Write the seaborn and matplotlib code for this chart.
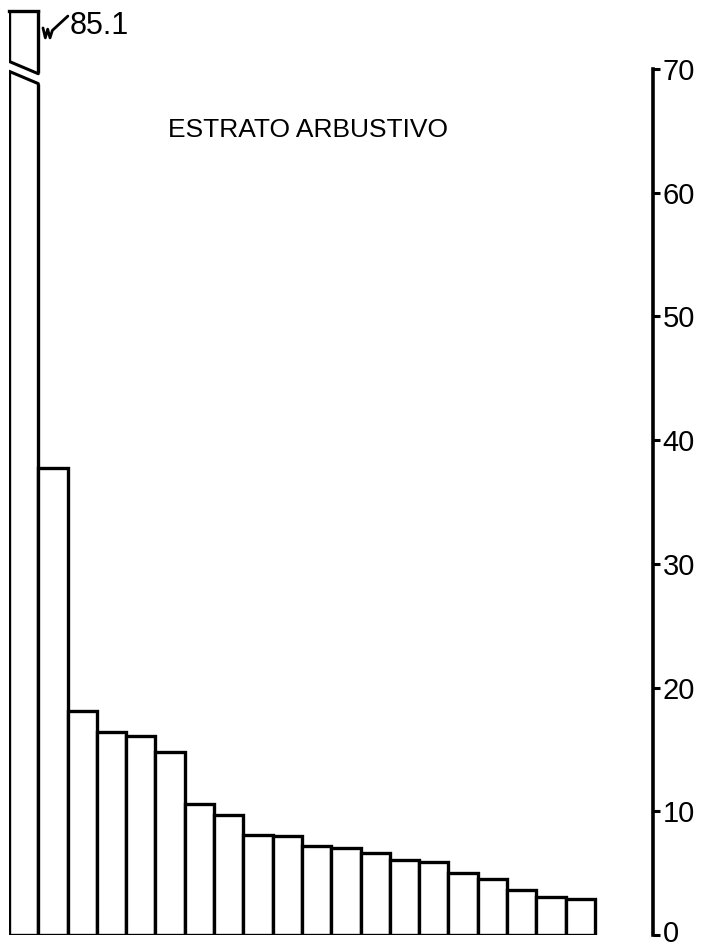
import matplotlib
matplotlib.use("Agg")
import matplotlib.pyplot as plt
import matplotlib.transforms as mtransforms
import seaborn as sns
import pandas as pd

categories = [str(i) for i in range(1, 21)]
values = [85.1, 37.7, 18.1, 16.4, 16.1, 14.8, 10.6, 9.7, 8.1, 8.0,
          7.2, 7.0, 6.6, 6.1, 5.9, 5.0, 4.5, 3.6, 3.1, 2.9]
yticks = [0, 10, 20, 30, 40, 50, 60, 70]
title = "ESTRATO ARBUSTIVO"
big_label = "85.1"

sns.set_style("white")
plt.rcParams['font.family'] = ['Liberation Sans', 'DejaVu Sans']
plt.rcParams['text.color'] = 'black'
plt.rcParams['ytick.color'] = 'black'

df = pd.DataFrame({"cat": categories, "val": values})

W, H = 706, 950
fig = plt.figure(figsize=(W / 100, H / 100), dpi=100)
ax = fig.add_axes([9 / W, (H - 935) / H, (653 - 9) / W, (935 - 10) / H])
sns.barplot(data=df, x="cat", y="val", color="white", edgecolor="black",
            linewidth=2.4, width=1.0, saturation=1, ax=ax, zorder=2)

ymax = 74.75
ax.set_ylim(0, ymax)
ax.set_xlim(-0.5, 21.48)

# top edge of the broken first bar
p0 = ax.patches[0]
x0, x1 = p0.get_x(), p0.get_x() + p0.get_width()
ax.plot([x0, x1], [ymax - 0.05, ymax - 0.05], color="black", lw=2.4,
        clip_on=False, zorder=5, solid_capstyle="projecting")

# break in the first bar
gap_poly = plt.Polygon([(x0 - 0.1, 70.7), (x1 + 0.1, 69.6),
                        (x1 + 0.1, 68.7), (x0 - 0.1, 69.8)],
                       closed=True, facecolor="white", edgecolor="none", zorder=4)
ax.add_patch(gap_poly)
ax.plot([x0, x1], [70.6, 69.6], color="black", lw=2.2, zorder=5)
ax.plot([x0, x1], [69.8, 68.8], color="black", lw=2.2, zorder=5)

# value label with squiggle
ax.plot([0.66, 0.74, 0.82, 0.90, 0.98, 1.51], [73.3, 72.5, 73.2, 72.5, 73.1, 74.26],
        color="black", lw=2.0, clip_on=False, zorder=5)
ax.text(1.56, 73.45, big_label, fontsize=22, va="center", ha="left",
        clip_on=False)

ax.text(9.72, 65.05, title, fontsize=19, ha="center", va="center")

# axes styling: right axis only
ax.set_xlabel("")
ax.set_ylabel("")
ax.set_xticks([])
ax.yaxis.tick_right()
ax.set_yticks(yticks)
ax.set_yticklabels([str(t) for t in yticks], fontsize=21)
ax.tick_params(axis="y", direction="out", length=5, width=2.2, pad=2, colors="black")
for s in ["left", "top", "bottom"]:
    ax.spines[s].set_visible(False)
ax.spines["right"].set_bounds(0, 70)
ax.spines["right"].set_linewidth(2.6)
ax.spines["right"].set_color("black")

# nudge the bottom label up slightly so it stays inside the figure
lab0 = ax.get_yticklabels()[0]
lab0.set_transform(lab0.get_transform() +
                   mtransforms.ScaledTranslation(0, 4 / 100, fig.dpi_scale_trans))

fig.savefig("out.png", dpi=100, facecolor="white")
